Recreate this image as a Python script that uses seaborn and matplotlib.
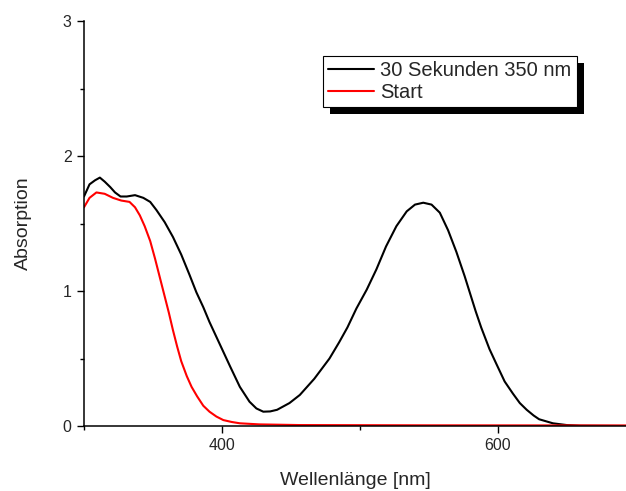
import numpy as np
import pandas as pd
import seaborn as sns
import matplotlib
matplotlib.use("Agg")
import matplotlib.pyplot as plt
from matplotlib.patches import Rectangle
from matplotlib.transforms import IdentityTransform
from matplotlib.ticker import MultipleLocator

# spectrum after 30 s irradiation at 350 nm
wl_30s = [300, 304, 308, 311.5, 315, 319, 322.5, 326.5, 331, 337, 343, 348, 352.5,
          358.5, 364.5, 370.5, 376.5, 381.5, 386.5, 391, 396, 401, 406, 413, 420,
          425, 430, 435, 440, 449, 456.5, 467, 478, 485, 491, 497.5, 505, 512, 519,
          526.5, 534, 540, 546, 552, 558, 564, 570, 576, 580, 584, 588, 594, 599,
          605, 611, 616, 621, 626, 630, 640, 650, 660, 693]
abs_30s = [1.70, 1.79, 1.82, 1.84, 1.81, 1.77, 1.73, 1.70, 1.70, 1.71, 1.69, 1.66,
           1.60, 1.51, 1.40, 1.27, 1.12, 0.99, 0.88, 0.77, 0.66, 0.55, 0.44, 0.29,
           0.18, 0.13, 0.106, 0.108, 0.12, 0.17, 0.23, 0.35, 0.50, 0.62, 0.73, 0.87,
           1.01, 1.16, 1.33, 1.48, 1.59, 1.64, 1.654, 1.64, 1.58, 1.45, 1.29, 1.11,
           0.98, 0.85, 0.73, 0.57, 0.46, 0.33, 0.24, 0.17, 0.12, 0.078, 0.05, 0.02,
           0.007, 0.002, 0.0]

# starting spectrum
wl_start = [300, 304, 309, 315, 321, 327, 333, 337, 340.5, 344, 348, 351.5, 355,
            358.5, 361.5, 364.5, 367.5, 370.5, 374.5, 378, 382, 386.5, 391, 396,
            401, 407, 413, 427, 456, 550, 693]
abs_start = [1.62, 1.69, 1.73, 1.72, 1.69, 1.67, 1.66, 1.62, 1.56, 1.48, 1.37, 1.24,
             1.10, 0.96, 0.84, 0.71, 0.59, 0.48, 0.37, 0.29, 0.22, 0.15, 0.106, 0.07,
             0.044, 0.03, 0.02, 0.012, 0.007, 0.005, 0.004]

lbl_30s = "30 Sekunden 350 nm"
lbl_start = "Start"

df = pd.concat([
    pd.DataFrame({"wl": wl_30s, "A": abs_30s, "serie": lbl_30s}),
    pd.DataFrame({"wl": wl_start, "A": abs_start, "serie": lbl_start}),
])

sns.set_style("ticks")
plt.rcParams["font.family"] = ["Liberation Sans", "DejaVu Sans"]

fig = plt.figure(figsize=(6.26, 4.91), dpi=100)
ax = fig.add_axes([84 / 626, 1 - 426 / 491, 1 - 84 / 626, (426 - 21) / 491])

sns.lineplot(data=df, x="wl", y="A", hue="serie", sort=False, estimator=None,
             palette={lbl_30s: "black", lbl_start: "red"}, linewidth=1.5, ax=ax)

ax.set_xlim(300, 693)
ax.set_ylim(0, 3)
ax.xaxis.set_major_locator(MultipleLocator(200))
ax.xaxis.set_minor_locator(MultipleLocator(100))
ax.yaxis.set_major_locator(MultipleLocator(1))
ax.yaxis.set_minor_locator(MultipleLocator(0.5))
ax.tick_params(which="major", length=5, width=1, labelsize=11.5, color="black", pad=4)
ax.tick_params(which="minor", length=3, width=1, color="black")
ax.spines["top"].set_visible(False)
ax.spines["right"].set_visible(False)
for s in ["left", "bottom"]:
    ax.spines[s].set_linewidth(1.1)
    ax.spines[s].set_color("black")

ax.set_xlabel("Wellenlänge [nm]", fontsize=14, labelpad=13)
ax.set_ylabel("Absorption", fontsize=14, labelpad=22)

handles, labels = ax.get_legend_handles_labels()
leg = ax.legend(handles, labels, loc="upper left", bbox_to_anchor=(323 / 626, 1 - 56 / 491),
                bbox_transform=fig.transFigure, borderaxespad=0, fontsize=14.5,
                fancybox=False, frameon=True, edgecolor="black", framealpha=1,
                handlelength=2.3, handletextpad=0.3, borderpad=0.25, labelspacing=0.15)
leg.get_frame().set_linewidth(0.8)

# solid black drop shadow behind the legend box
fig.canvas.draw()
bb = leg.get_window_extent()
shadow = Rectangle((bb.x0 + 7, bb.y0 - 7), bb.width, bb.height, transform=IdentityTransform(),
                   facecolor="black", edgecolor="none", zorder=4.5, clip_on=False)
ax.add_artist(shadow)

fig.savefig("out.png", dpi=100)
